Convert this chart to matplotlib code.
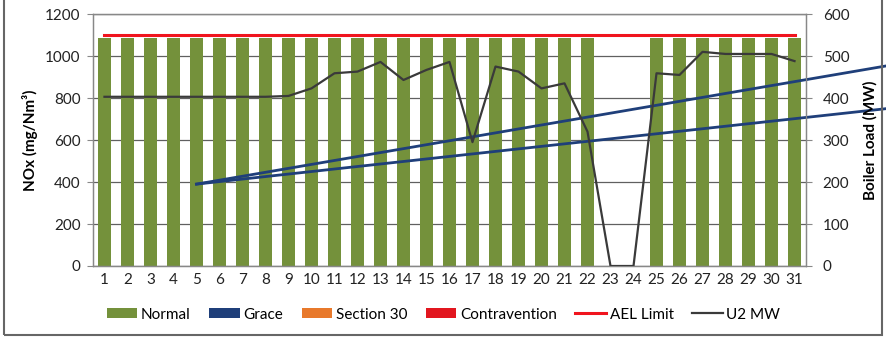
import matplotlib.pyplot as plt
from matplotlib.patches import Rectangle

plt.rcParams['font.family'] = ['Lato', 'DejaVu Sans']

# Daily data for the month
days = list(range(1, 32))
normal = [1085] * 22 + [0, 0] + [1085] * 7
grace = [0] * 31
section30 = [0] * 31
contravention = [0] * 31
ael_limit = [1100] * 31
u2_mw = [403, 403, 403, 403, 403, 403, 403, 403, 405, 423,
         459, 463, 486, 443, 467, 486, 295, 475, 463, 423,
         435, 320, 0, 0, 459, 455, 510, 505, 505, 505, 488]

# Hand-drawn trend strokes (day, NOx)
stroke_x = [5, 35.2]
stroke_hi = [390, 957]
stroke_lo = [390, 752]

fig = plt.figure(figsize=(8.87, 3.43), dpi=100)
ax = fig.add_axes([0.1048, 0.2245, 0.8039, 0.7345])
ax2 = ax.twinx()

green = '#74913B'
navy = '#1F3F7A'
orange = '#E8792B'
red = '#E2161F'

ax.bar(days, normal, width=0.6, color=green, label='Normal', zorder=2)
bottom = list(normal)
ax.bar(days, grace, width=0.6, bottom=bottom, color=navy, label='Grace', zorder=2)
bottom = [b + g for b, g in zip(bottom, grace)]
ax.bar(days, section30, width=0.6, bottom=bottom, color=orange, label='Section 30', zorder=2)
bottom = [b + s for b, s in zip(bottom, section30)]
ax.bar(days, contravention, width=0.6, bottom=bottom, color=red, label='Contravention', zorder=2)
ax.plot(days, ael_limit, color='#F0141E', lw=2.2, label='AEL Limit', zorder=3)

ax2.plot(days, u2_mw, color='#3a3a3a', lw=1.6, label='U2 MW', zorder=3)

ax.set_xlim(0.5, 31.5)
ax.set_ylim(0, 1200)
ax2.set_ylim(0, 600)
ax.set_xticks(days)
ax.set_yticks(range(0, 1201, 200))
ax2.set_yticks(range(0, 601, 100))
ax.grid(axis='y', color='#606060', lw=0.9, zorder=0)
ax.set_axisbelow(True)

for a in (ax, ax2):
    for side in a.spines:
        a.spines[side].set_color('#888888')
        a.spines[side].set_linewidth(0.9)
    a.spines['top'].set_linestyle((0, (1, 1)))
ax.tick_params(axis='x', length=0, labelsize=11, colors='#222222', pad=5)
ax.tick_params(axis='y', length=4, labelsize=11, colors='#222222', pad=5)
ax2.tick_params(axis='y', length=4, labelsize=11, colors='#222222', pad=8)
for a in (ax, ax2):
    a.tick_params(axis='y', color='#888888')

ax.set_ylabel('NOx (mg/Nm³)', fontsize=11, fontweight='bold', labelpad=5)
ax2.set_ylabel('Boiler Load (MW)', fontsize=11, fontweight='bold', labelpad=10)

# Trend strokes drawn across the chart
ax.plot(stroke_x, stroke_hi, color=navy, lw=2, clip_on=False, zorder=5)
ax.plot(stroke_x, stroke_lo, color=navy, lw=2, clip_on=False, zorder=5)

h1, l1 = ax.get_legend_handles_labels()
h2, l2 = ax2.get_legend_handles_labels()
order = [1, 2, 3, 4, 0]
handles = [h1[i] for i in order] + h2
labels = [l1[i] for i in order] + l2
fig.legend(handles, labels, loc='center', bbox_to_anchor=(0.5, 0.083), ncol=6,
           frameon=False, fontsize=11, handlelength=2.0, handleheight=0.6,
           columnspacing=1.2, handletextpad=0.25)

fig.patches.append(Rectangle((0.004, 0.023), 0.99, 1.0, transform=fig.transFigure,
                             fill=False, edgecolor='#666666', lw=1.5))

fig.savefig('out.png', dpi=100)
